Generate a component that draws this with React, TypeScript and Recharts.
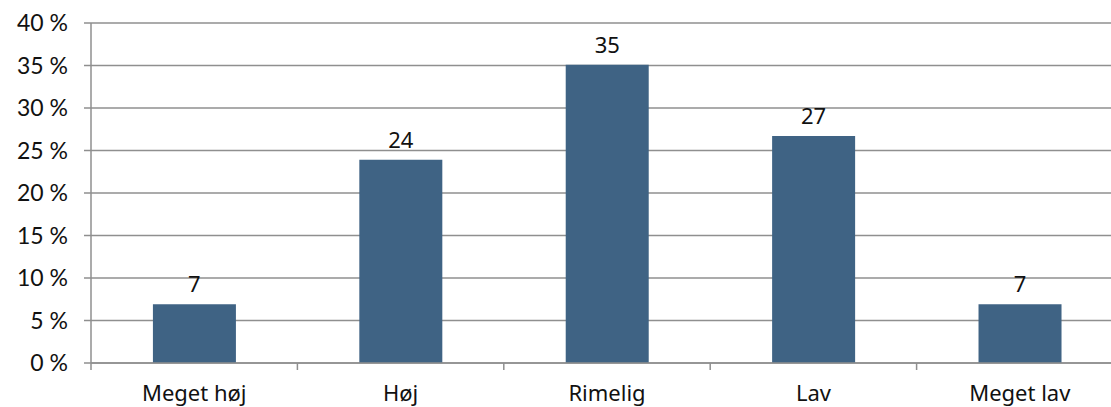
import { Bar, BarChart, CartesianGrid, LabelList, XAxis, YAxis } from "recharts";

const categories = ["Meget høj", "Høj", "Rimelig", "Lav", "Meget lav"];
const shares = [6.9, 23.9, 35.1, 26.7, 6.9];
const labels = ["7", "24", "35", "27", "7"];
const yTicks = [0, 5, 10, 15, 20, 25, 30, 35, 40];

const data = categories.map((name, i) => ({ name, value: shares[i], label: labels[i] }));

const GRID = "#8f8f8f";
const BAR = "#3f6384";

function CategoryTick(props: any) {
  const { x, y, payload } = props;
  const left = x - (payload.offset ?? 0);
  return (
    <g>
      <line x1={left} y1={y} x2={left} y2={y + 7} stroke={GRID} strokeWidth={1.5} />
      <text
        x={x}
        y={y + 38}
        textAnchor="middle"
        fill="#111"
        fontSize={22}
        fontFamily="'Noto Sans', sans-serif"
      >
        {payload.value}
      </text>
    </g>
  );
}

export default function App() {
  return (
    <div
      style={{
        position: "fixed",
        left: 0,
        top: 0,
        width: 1111,
        height: 407,
        overflow: "hidden",
        background: "#fff",
      }}
    >
      <BarChart
        width={1123}
        height={407}
        data={data}
        margin={{ top: 23, right: 0, bottom: 0, left: 0 }}
        barCategoryGap="30%"
      >
        <CartesianGrid horizontal vertical={false} stroke={GRID} strokeWidth={1.5} />
        <XAxis
          dataKey="name"
          height={44}
          axisLine={{ stroke: GRID, strokeWidth: 1.5 }}
          tickLine={false}
          tickSize={0}
          tickMargin={0}
          interval={0}
          tick={<CategoryTick />}
        />
        <YAxis
          width={91}
          domain={[0, 40]}
          ticks={yTicks}
          interval={0}
          tickFormatter={(v: number) => `${v} %`}
          axisLine={{ stroke: GRID, strokeWidth: 1.5 }}
          tickLine={{ stroke: GRID, strokeWidth: 1.5 }}
          tickSize={7}
          tickMargin={16}
          tick={{ fill: "#111", fontSize: 23, fontFamily: "Lato, sans-serif" }}
        />
        <Bar dataKey="value" fill={BAR} isAnimationActive={false}>
          <LabelList
            dataKey="label"
            position="top"
            offset={12}
            fill="#111"
            fontSize={22}
            fontFamily="'Noto Sans', sans-serif"
          />
        </Bar>
      </BarChart>
    </div>
  );
}
